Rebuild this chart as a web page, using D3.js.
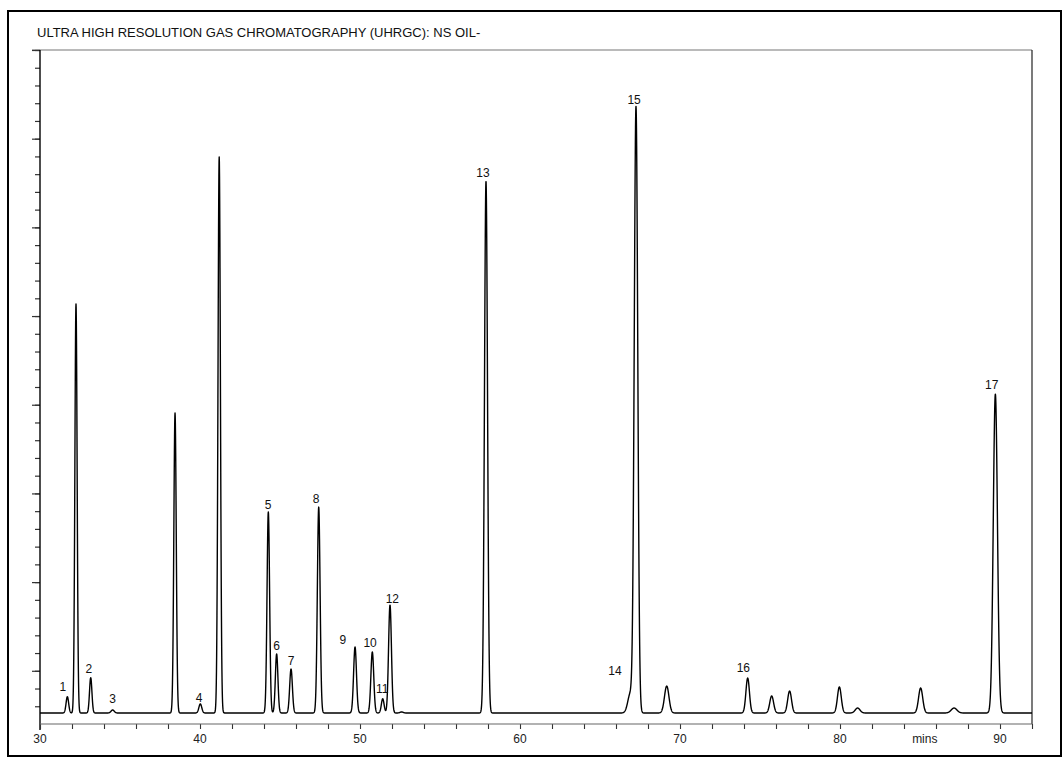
<!DOCTYPE html>
<html><head><meta charset="utf-8">
<script src="https://cdn.jsdelivr.net/npm/d3@7/dist/d3.min.js"></script>
<style>
html,body{margin:0;padding:0;background:#fff;}
svg{display:block;font-family:Arial,"Liberation Sans",sans-serif;}
</style></head>
<body>
<svg id="chart" width="1063" height="760"></svg>
<script>
// ---- data ----
const title = "ULTRA HIGH RESOLUTION GAS CHROMATOGRAPHY (UHRGC): NS OIL-";
const xTickLabels = [30, 40, 50, 60, 70, 80, 90];
const xMinorTicks = d3.range(30, 93, 2);
const yMinorTicks = d3.range(1, 39, 1);
const yMajorTicks = [38, 33, 28, 23, 18, 13, 8, 3];
const baselineLevel = 0.62;
// peak retention times (min), heights above baseline, widths (sigma, min)
const peakTimes   = [31.71, 32.25, 33.17, 34.54, 38.44, 40.02, 41.20, 44.27, 44.79, 45.69, 47.42, 49.69, 50.77, 51.42, 51.875, 52.60, 57.875, 66.90, 67.25, 69.17, 74.23, 75.73, 76.85, 79.96, 81.10, 85.04, 87.13, 89.71];
const peakHeights = [0.92, 23.06, 1.99, 0.17, 16.91, 0.51, 31.35, 11.33, 3.33, 2.48, 11.61, 3.72, 3.44, 0.80, 6.09, 0.06, 29.99, 1.10, 34.10, 1.52, 1.97, 0.96, 1.24, 1.47, 0.28, 1.41, 0.28, 17.98];
const peakWidths  = [0.080, 0.070, 0.075, 0.100, 0.075, 0.090, 0.075, 0.080, 0.080, 0.085, 0.085, 0.090, 0.090, 0.085, 0.090, 0.100, 0.095, 0.160, 0.110, 0.140, 0.110, 0.120, 0.120, 0.120, 0.150, 0.130, 0.180, 0.130];
// peak labels: text, time and signal level of the label baseline
const labelTexts  = ["1", "2", "3", "4", "5", "6", "7", "8", "9", "10", "11", "12", "13", "14", "15", "16", "17"];
const labelTimes  = [31.42, 33.06, 34.54, 39.94, 44.25, 44.79, 45.69, 47.25, 48.92, 50.63, 51.39, 52.02, 57.69, 65.94, 67.13, 73.96, 89.48];
const labelLevels = [1.86, 2.86, 1.20, 1.26, 12.12, 4.17, 3.33, 12.46, 4.51, 4.34, 1.75, 6.84, 30.84, 2.76, 34.96, 2.93, 18.89];

// ---- layout ----
const svg = d3.select("#chart");
const L = 40, R = 1032, T = 50, B = 724;
const x = d3.scaleLinear().domain([30, 92]).range([L, R]);
const y = d3.scaleLinear().domain([0, 38]).range([B, T]);

// outer frame
svg.append("rect").attr("x", 8).attr("y", 11).attr("width", 1053).attr("height", 745)
  .attr("fill", "none").attr("stroke", "#000").attr("stroke-width", 2);

svg.append("text").attr("x", 37).attr("y", 37).attr("font-size", 13).attr("fill", "#111").text(title);

// plot frame lines
svg.append("line").attr("x1", 32).attr("x2", R).attr("y1", T).attr("y2", T).attr("stroke", "#777").attr("stroke-width", 1.2);
svg.append("line").attr("x1", R).attr("x2", R).attr("y1", T).attr("y2", B).attr("stroke", "#222").attr("stroke-width", 1.2);

// y axis: minor + major ticks
const yMinor = d3.axisLeft(y).tickValues(yMinorTicks).tickSize(5).tickFormat("");
const yMajor = d3.axisLeft(y).tickValues(yMajorTicks).tickSize(8).tickFormat("");
const gy1 = svg.append("g").attr("transform", `translate(${L},0)`).call(yMinor);
const gy2 = svg.append("g").attr("transform", `translate(${L},0)`).call(yMajor);
[gy1, gy2].forEach(g => { g.select(".domain").remove(); g.selectAll("line").attr("stroke", "#333").attr("stroke-width", 1.2); });
svg.append("line").attr("x1", L).attr("x2", L).attr("y1", T).attr("y2", B + 6).attr("stroke", "#000").attr("stroke-width", 1.4);

// x axis
const xMinor = d3.axisBottom(x).tickValues(xMinorTicks).tickSize(5).tickFormat("");
const gx = svg.append("g").attr("transform", `translate(0,${B})`).call(xMinor);
gx.select(".domain").remove();
gx.selectAll("line").attr("stroke", "#333").attr("stroke-width", 1.1);
svg.append("line").attr("x1", L).attr("x2", R).attr("y1", B).attr("y2", B).attr("stroke", "#666").attr("stroke-width", 1.2);
svg.append("g").selectAll("text").data(xTickLabels).join("text")
  .attr("x", d => x(d)).attr("y", B + 19).attr("text-anchor", "middle")
  .attr("font-size", 12).attr("fill", "#222").text(d => d);
svg.append("text").attr("x", x(85.3)).attr("y", B + 19).attr("text-anchor", "middle")
  .attr("font-size", 12).attr("fill", "#222").text("mins");

// signal trace built from the peak list
const times = d3.range(30, 92.0001, 0.01);
const peaks = peakTimes.map((t, i) => ({t, h: peakHeights[i], s: peakWidths[i]}));
const signal = times.map(t => {
  let v = baselineLevel;
  for (const p of peaks) {
    const z = (t - p.t) / p.s;
    if (Math.abs(z) < 8) v += p.h * Math.exp(-0.5 * z * z);
  }
  return [t, v];
});
svg.append("path").datum(signal)
  .attr("d", d3.line().x(d => x(d[0])).y(d => y(d[1])))
  .attr("fill", "none").attr("stroke", "#000").attr("stroke-width", 1.4).attr("stroke-linejoin", "round");

// peak labels
svg.append("g").selectAll("text").data(labelTexts).join("text")
  .attr("x", (d, i) => x(labelTimes[i])).attr("y", (d, i) => y(labelLevels[i]))
  .attr("text-anchor", "middle").attr("font-size", 12).attr("fill", "#111").text(d => d);
</script>
</body></html>
